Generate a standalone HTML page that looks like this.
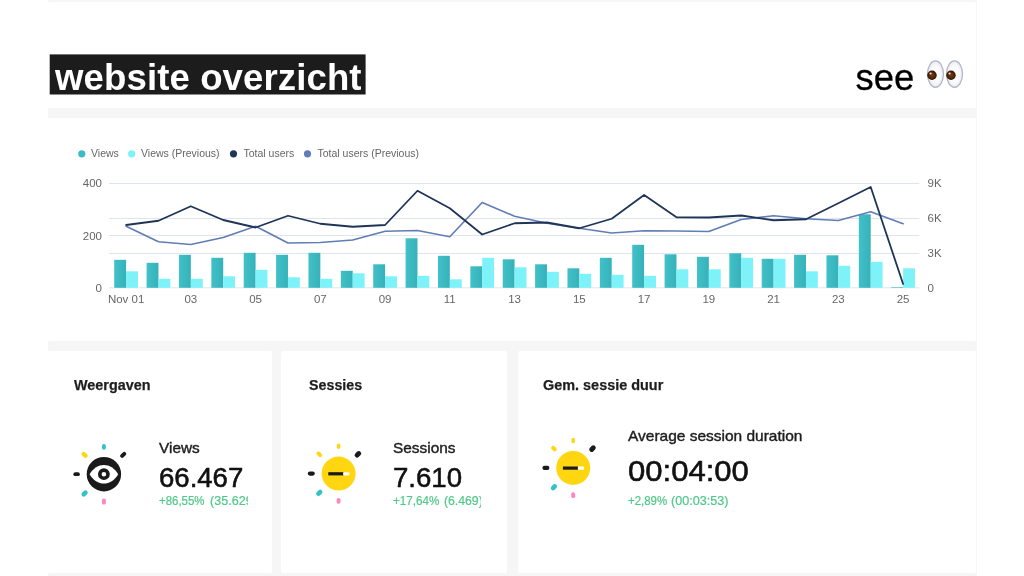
<!DOCTYPE html>
<html lang="nl"><head><meta charset="utf-8"><title>website overzicht</title>
<style>
html,body{margin:0;padding:0;}
body{width:1024px;height:576px;overflow:hidden;background:#fff;position:relative;font-family:"Liberation Sans",Arial,sans-serif;color:#1e1e1e;}
.wrap{position:absolute;left:47.5px;top:0;width:929px;height:576px;background:#f6f6f6;}
.panel{position:absolute;background:#fff;border-radius:2px;}
.p-head{left:48px;top:2px;width:928px;height:106px;}
.p-chart{left:48px;top:118px;width:928px;height:223px;}
.p1{left:48px;top:351px;width:224.2px;height:222px;}
.p2{left:281.3px;top:351px;width:225.7px;height:222px;}
.p3{left:517.5px;top:351px;width:458.5px;height:222px;}
.title{position:absolute;left:50px;top:54.7px;width:315.5px;height:39.7px;color:#fff;font-weight:bold;font-size:36.6px;line-height:40px;white-space:nowrap;letter-spacing:0.1px;}
.title span{position:absolute;left:5px;top:3.6px;}
.see{position:absolute;left:855.5px;top:57.6px;font-size:36.4px;line-height:40px;color:#000;white-space:nowrap;-webkit-text-stroke:0.3px #000;}
.eyes{position:absolute;left:925px;top:58.7px;}
.chart{position:absolute;left:48px;top:118px;}
.icons{position:absolute;left:0;top:0;}
.t{position:absolute;white-space:nowrap;}
</style></head><body>
<div class="wrap"></div>
<div class="panel p-head"></div>
<div class="panel p-chart"></div>
<div class="panel p1"></div><div class="panel p2"></div><div class="panel p3"></div>
<svg style="position:absolute;left:0;top:0" width="400" height="110" viewBox="0 0 400 110"><rect x="49.7" y="54.4" width="315.9" height="40.1" fill="#1c1c1c"/></svg>
<div class="title"><span>website overzicht</span></div>
<div class="see">see</div>
<svg class="chart" width="928" height="223" viewBox="48 118 928 223">
<defs><linearGradient id="vg" x1="0" x2="1" y1="0" y2="0"><stop offset="0" stop-color="#41c1c9"/><stop offset="1" stop-color="#36b1b9"/></linearGradient></defs>
<line x1="109" x2="919.3" y1="183.5" y2="183.5" stroke="#dfe5f0" stroke-width="1"/>
<line x1="109" x2="919.3" y1="218.5" y2="218.5" stroke="#dfe5f0" stroke-width="1"/>
<line x1="109" x2="919.3" y1="235.5" y2="235.5" stroke="#dfe5f0" stroke-width="1"/>
<line x1="109" x2="919.3" y1="253.5" y2="253.5" stroke="#dfe5f0" stroke-width="1"/>
<line x1="109" x2="919.3" y1="287.8" y2="287.8" stroke="#dfe5f0" stroke-width="1"/>
<rect x="114.21" y="259.80" width="11.88" height="28.00" fill="url(#vg)"/>
<rect x="126.09" y="271.30" width="11.88" height="16.50" fill="#7df2f8"/>
<rect x="146.59" y="262.80" width="11.88" height="25.00" fill="url(#vg)"/>
<rect x="158.46" y="278.80" width="11.88" height="9.00" fill="#7df2f8"/>
<rect x="178.96" y="254.80" width="11.88" height="33.00" fill="url(#vg)"/>
<rect x="190.84" y="278.80" width="11.88" height="9.00" fill="#7df2f8"/>
<rect x="211.34" y="257.80" width="11.88" height="30.00" fill="url(#vg)"/>
<rect x="223.21" y="276.30" width="11.88" height="11.50" fill="#7df2f8"/>
<rect x="243.71" y="252.80" width="11.88" height="35.00" fill="url(#vg)"/>
<rect x="255.59" y="269.80" width="11.88" height="18.00" fill="#7df2f8"/>
<rect x="276.09" y="254.80" width="11.88" height="33.00" fill="url(#vg)"/>
<rect x="287.96" y="277.30" width="11.88" height="10.50" fill="#7df2f8"/>
<rect x="308.46" y="252.80" width="11.88" height="35.00" fill="url(#vg)"/>
<rect x="320.34" y="278.80" width="11.88" height="9.00" fill="#7df2f8"/>
<rect x="340.84" y="270.80" width="11.88" height="17.00" fill="url(#vg)"/>
<rect x="352.71" y="273.30" width="11.88" height="14.50" fill="#7df2f8"/>
<rect x="373.21" y="264.30" width="11.88" height="23.50" fill="url(#vg)"/>
<rect x="385.09" y="276.30" width="11.88" height="11.50" fill="#7df2f8"/>
<rect x="405.59" y="238.30" width="11.88" height="49.50" fill="url(#vg)"/>
<rect x="417.46" y="275.80" width="11.88" height="12.00" fill="#7df2f8"/>
<rect x="437.96" y="255.80" width="11.88" height="32.00" fill="url(#vg)"/>
<rect x="449.84" y="279.30" width="11.88" height="8.50" fill="#7df2f8"/>
<rect x="470.34" y="266.30" width="11.88" height="21.50" fill="url(#vg)"/>
<rect x="482.21" y="257.80" width="11.88" height="30.00" fill="#7df2f8"/>
<rect x="502.71" y="259.30" width="11.88" height="28.50" fill="url(#vg)"/>
<rect x="514.59" y="267.30" width="11.88" height="20.50" fill="#7df2f8"/>
<rect x="535.09" y="264.30" width="11.88" height="23.50" fill="url(#vg)"/>
<rect x="546.96" y="271.80" width="11.88" height="16.00" fill="#7df2f8"/>
<rect x="567.46" y="268.30" width="11.88" height="19.50" fill="url(#vg)"/>
<rect x="579.34" y="273.80" width="11.88" height="14.00" fill="#7df2f8"/>
<rect x="599.84" y="257.80" width="11.88" height="30.00" fill="url(#vg)"/>
<rect x="611.71" y="274.80" width="11.88" height="13.00" fill="#7df2f8"/>
<rect x="632.21" y="244.80" width="11.88" height="43.00" fill="url(#vg)"/>
<rect x="644.09" y="275.80" width="11.88" height="12.00" fill="#7df2f8"/>
<rect x="664.59" y="254.30" width="11.88" height="33.50" fill="url(#vg)"/>
<rect x="676.46" y="269.30" width="11.88" height="18.50" fill="#7df2f8"/>
<rect x="696.96" y="256.80" width="11.88" height="31.00" fill="url(#vg)"/>
<rect x="708.84" y="269.30" width="11.88" height="18.50" fill="#7df2f8"/>
<rect x="729.34" y="253.30" width="11.88" height="34.50" fill="url(#vg)"/>
<rect x="741.21" y="257.80" width="11.88" height="30.00" fill="#7df2f8"/>
<rect x="761.71" y="258.80" width="11.88" height="29.00" fill="url(#vg)"/>
<rect x="773.59" y="258.80" width="11.88" height="29.00" fill="#7df2f8"/>
<rect x="794.09" y="254.80" width="11.88" height="33.00" fill="url(#vg)"/>
<rect x="805.96" y="271.30" width="11.88" height="16.50" fill="#7df2f8"/>
<rect x="826.46" y="255.30" width="11.88" height="32.50" fill="url(#vg)"/>
<rect x="838.34" y="265.80" width="11.88" height="22.00" fill="#7df2f8"/>
<rect x="858.84" y="214.30" width="11.88" height="73.50" fill="url(#vg)"/>
<rect x="870.71" y="261.80" width="11.88" height="26.00" fill="#7df2f8"/>
<rect x="891.21" y="287.20" width="11.88" height="0.60" fill="url(#vg)"/>
<rect x="903.09" y="268.30" width="11.88" height="19.50" fill="#7df2f8"/>
<polyline points="126.1,226.25 158.5,241.75 190.8,244.50 223.2,237.50 255.6,226.25 288.0,243.00 320.3,242.50 352.7,240.00 385.1,231.25 417.5,230.50 449.8,236.75 482.2,202.50 514.6,216.25 547.0,223.25 579.3,228.25 611.7,233.00 644.1,230.75 676.5,231.00 708.8,231.50 741.2,219.50 773.6,215.75 806.0,218.75 838.3,220.50 870.7,211.75 903.1,223.75" fill="none" stroke="#617db5" stroke-width="1.65" stroke-linejoin="round" stroke-linecap="round"/>
<polyline points="126.1,225.00 158.5,220.75 190.8,206.25 223.2,220.00 255.6,227.50 288.0,215.75 320.3,223.75 352.7,226.75 385.1,225.00 417.5,190.75 449.8,208.25 482.2,234.50 514.6,223.25 547.0,222.50 579.3,228.25 611.7,218.75 644.1,195.00 676.5,217.25 708.8,217.50 741.2,215.50 773.6,220.25 806.0,219.25 838.3,203.25 870.7,187.00 903.1,284.00" fill="none" stroke="#1f3557" stroke-width="1.8" stroke-linejoin="round" stroke-linecap="round"/>
<g font-family="'Liberation Sans', Arial, sans-serif" font-size="11.5" fill="#666">
<text x="102" y="187" text-anchor="end">400</text>
<text x="102" y="239.5" text-anchor="end">200</text>
<text x="102" y="292" text-anchor="end">0</text>
<text x="927.5" y="187">9K</text>
<text x="927.5" y="222">6K</text>
<text x="927.5" y="257">3K</text>
<text x="927.5" y="292">0</text>
<text x="126.1" y="303" text-anchor="middle">Nov 01</text>
<text x="190.8" y="303" text-anchor="middle">03</text>
<text x="255.6" y="303" text-anchor="middle">05</text>
<text x="320.3" y="303" text-anchor="middle">07</text>
<text x="385.1" y="303" text-anchor="middle">09</text>
<text x="449.8" y="303" text-anchor="middle">11</text>
<text x="514.6" y="303" text-anchor="middle">13</text>
<text x="579.3" y="303" text-anchor="middle">15</text>
<text x="644.1" y="303" text-anchor="middle">17</text>
<text x="708.8" y="303" text-anchor="middle">19</text>
<text x="773.6" y="303" text-anchor="middle">21</text>
<text x="838.3" y="303" text-anchor="middle">23</text>
<text x="903.1" y="303" text-anchor="middle">25</text>
</g>
<g font-family="'Liberation Sans', Arial, sans-serif" font-size="10.5" fill="#666">
<circle cx="81.8" cy="153.8" r="3.6" fill="#3bbcc4"/>
<text x="91" y="157.3">Views</text>
<circle cx="131.6" cy="153.8" r="3.6" fill="#7df2f8"/>
<text x="141" y="157.3">Views (Previous)</text>
<circle cx="233.5" cy="153.8" r="3.6" fill="#1f3557"/>
<text x="243.5" y="157.3">Total users</text>
<circle cx="307.5" cy="153.8" r="3.6" fill="#617db5"/>
<text x="317.5" y="157.3">Total users (Previous)</text>
</g>
</svg>
<svg class="icons" width="1024" height="576" viewBox="0 0 1024 576">
<defs><radialGradient id="pg" cx="0.5" cy="0.5" r="0.5"><stop offset="0" stop-color="#6b3a10"/><stop offset="0.55" stop-color="#5a2a08"/><stop offset="1" stop-color="#2e1002"/></radialGradient>
<radialGradient id="wg" cx="0.5" cy="0.5" r="0.5"><stop offset="0.6" stop-color="#fbfbfb"/><stop offset="1" stop-color="#e9eaf0"/></radialGradient></defs><g transform="translate(925 58.1)">
<ellipse cx="10.5" cy="16" rx="8" ry="13.2" fill="url(#wg)" stroke="#aeb2c6" stroke-width="1.2"/>
<ellipse cx="29.5" cy="16" rx="8" ry="13.2" fill="url(#wg)" stroke="#aeb2c6" stroke-width="1.2"/>
<circle cx="7" cy="17.2" r="4.7" fill="url(#pg)"/><circle cx="26" cy="17.2" r="4.7" fill="url(#pg)"/>
<circle cx="5.6" cy="15.4" r="1.1" fill="#f3e6dc"/><circle cx="24.6" cy="15.4" r="1.1" fill="#f3e6dc"/>
</g>
<rect x="-2.9" y="-1.95" width="5.8" height="3.9" rx="1.95" fill="#2fc4c6" transform="translate(103.90 446.90) rotate(-90)"/>
<rect x="-3.5" y="-2.2" width="7" height="4.4" rx="2.2" fill="#ffd60f" transform="translate(84.60 454.90) rotate(-135)"/>
<rect x="-3.5" y="-1.95" width="7" height="3.9" rx="1.95" fill="#1a1a1a" transform="translate(123.20 454.90) rotate(-45)"/>
<rect x="-3.25" y="-1.875" width="6.5" height="3.75" rx="1.875" fill="#1a1a1a" transform="translate(76.60 474.20) rotate(180)"/>
<rect x="-3.5" y="-2.2" width="7" height="4.4" rx="2.2" fill="#2fc4c6" transform="translate(84.60 493.50) rotate(135)"/>
<rect x="-3.1" y="-1.95" width="6.2" height="3.9" rx="1.95" fill="#ff85c0" transform="translate(103.90 501.50) rotate(90)"/>
<circle cx="103.9" cy="474.2" r="17.2" fill="#1a1a1a"/>
<path d="M89.60000000000001 474.2 C96.75 461.8 111.05000000000001 461.8 118.2 474.2 C111.05000000000001 486.59999999999997 96.75 486.59999999999997 89.60000000000001 474.2Z" fill="#fff"/>
<circle cx="103.9" cy="474.2" r="4.1" fill="none" stroke="#1a1a1a" stroke-width="3.6"/>
<rect x="-2.75" y="-1.75" width="5.5" height="3.5" rx="1.75" fill="#ffd60f" transform="translate(338.60 446.30) rotate(-90)"/>
<rect x="-3.1" y="-1.95" width="6.2" height="3.9" rx="1.95" fill="#ffd60f" transform="translate(319.30 454.30) rotate(-135)"/>
<rect x="-3.6" y="-2.45" width="7.2" height="4.9" rx="2.45" fill="#1a1a1a" transform="translate(357.90 454.30) rotate(-45)"/>
<rect x="-3.5" y="-2.1" width="7" height="4.2" rx="2.1" fill="#1a1a1a" transform="translate(311.30 473.60) rotate(180)"/>
<rect x="-3.5" y="-2.3" width="7" height="4.6" rx="2.3" fill="#2fc4c6" transform="translate(319.30 492.90) rotate(135)"/>
<rect x="-2.9" y="-1.95" width="5.8" height="3.9" rx="1.95" fill="#ff85c0" transform="translate(338.60 500.90) rotate(90)"/>
<circle cx="338.6" cy="473.6" r="17" fill="#ffd60f"/>
<rect x="328.3" y="472.20000000000005" width="15" height="3.2" fill="#1a1a1a"/>
<rect x="343.3" y="472.20000000000005" width="6.2" height="3.2" rx="1" fill="#fff"/>
<rect x="-2.75" y="-1.75" width="5.5" height="3.5" rx="1.75" fill="#ffd60f" transform="translate(573.20 440.60) rotate(-90)"/>
<rect x="-3.1" y="-1.95" width="6.2" height="3.9" rx="1.95" fill="#ffd60f" transform="translate(553.90 448.60) rotate(-135)"/>
<rect x="-3.6" y="-2.45" width="7.2" height="4.9" rx="2.45" fill="#1a1a1a" transform="translate(592.50 448.60) rotate(-45)"/>
<rect x="-3.5" y="-2.1" width="7" height="4.2" rx="2.1" fill="#1a1a1a" transform="translate(545.90 467.90) rotate(180)"/>
<rect x="-3.5" y="-2.3" width="7" height="4.6" rx="2.3" fill="#2fc4c6" transform="translate(553.90 487.20) rotate(135)"/>
<rect x="-2.9" y="-1.95" width="5.8" height="3.9" rx="1.95" fill="#ff85c0" transform="translate(573.20 495.20) rotate(90)"/>
<circle cx="573.2" cy="467.9" r="17" fill="#ffd60f"/>
<rect x="562.9000000000001" y="466.5" width="15" height="3.2" fill="#1a1a1a"/>
<rect x="577.9000000000001" y="466.5" width="6.2" height="3.2" rx="1" fill="#fff"/>
</svg>
<div class="t" style="left:73.50px;top:376.02px;font-size:15.3px;line-height:18.36px;font-weight:bold;color:#1e1e1e;-webkit-text-stroke:0.25px #1e1e1e;"><span style="display:inline-block;transform-origin:0 0;transform:scaleX(0.9408);">Weergaven</span></div>
<div class="t" style="left:308.60px;top:376.02px;font-size:15.3px;line-height:18.36px;font-weight:bold;color:#1e1e1e;-webkit-text-stroke:0.25px #1e1e1e;"><span style="display:inline-block;transform-origin:0 0;transform:scaleX(0.9330);">Sessies</span></div>
<div class="t" style="left:543.00px;top:376.02px;font-size:15.3px;line-height:18.36px;font-weight:bold;color:#1e1e1e;-webkit-text-stroke:0.25px #1e1e1e;"><span style="display:inline-block;transform-origin:0 0;transform:scaleX(0.9430);">Gem. sessie duur</span></div>
<div class="t" style="left:159.10px;top:440.29px;font-size:14.8px;line-height:17.76px;font-weight:normal;color:#1e1e1e;-webkit-text-stroke:0.4px #1e1e1e;"><span style="display:inline-block;transform-origin:0 0;transform:scaleX(1.0385);">Views</span></div>
<div class="t" style="left:393.10px;top:440.29px;font-size:14.8px;line-height:17.76px;font-weight:normal;color:#1e1e1e;-webkit-text-stroke:0.4px #1e1e1e;"><span style="display:inline-block;transform-origin:0 0;transform:scaleX(1.0412);">Sessions</span></div>
<div class="t" style="left:627.80px;top:428.09px;font-size:14.8px;line-height:17.76px;font-weight:normal;color:#1e1e1e;-webkit-text-stroke:0.4px #1e1e1e;"><span style="display:inline-block;transform-origin:0 0;transform:scaleX(1.0464);">Average session duration</span></div>
<div class="t" style="left:158.87px;top:462.03px;font-size:26.8px;line-height:32.16px;font-weight:normal;color:#111;-webkit-text-stroke:0.55px #111;"><span style="display:inline-block;transform-origin:0 0;transform:scaleX(1.0280);">66.467</span></div>
<div class="t" style="left:393.17px;top:462.03px;font-size:26.8px;line-height:32.16px;font-weight:normal;color:#111;-webkit-text-stroke:0.55px #111;"><span style="display:inline-block;transform-origin:0 0;transform:scaleX(1.0299);">7.610</span></div>
<div class="t" style="left:628.17px;top:453.11px;font-size:30.0px;line-height:36.0px;font-weight:normal;color:#111;-webkit-text-stroke:0.6px #111;"><span style="display:inline-block;transform-origin:0 0;transform:scaleX(1.0348);">00:04:00</span></div>
<div class="t" style="left:159.00px;top:493.74px;font-size:12px;line-height:14.4px;font-weight:normal;color:#50c888;-webkit-text-stroke:0.2px #50c888;"><span style="display:inline-block;transform-origin:0 0;transform:scaleX(0.9545);">+86,55%</span></div>
<div class="t" style="left:209.60px;top:493.74px;font-size:12px;line-height:14.4px;font-weight:normal;color:#50c888;-webkit-text-stroke:0.2px #50c888;width:38.30px;overflow:hidden;"><span style="display:inline-block;transform-origin:0 0;transform:scaleX(1.0480);">(35.629)</span></div>
<div class="t" style="left:393.00px;top:493.74px;font-size:12px;line-height:14.4px;font-weight:normal;color:#50c888;-webkit-text-stroke:0.2px #50c888;"><span style="display:inline-block;transform-origin:0 0;transform:scaleX(0.9701);">+17,64%</span></div>
<div class="t" style="left:444.20px;top:493.74px;font-size:12px;line-height:14.4px;font-weight:normal;color:#50c888;-webkit-text-stroke:0.2px #50c888;width:37.10px;overflow:hidden;"><span style="display:inline-block;transform-origin:0 0;transform:scaleX(1.0189);">(6.469)</span></div>
<div class="t" style="left:627.85px;top:494.04px;font-size:12px;line-height:14.4px;font-weight:normal;color:#50c888;-webkit-text-stroke:0.2px #50c888;"><span style="display:inline-block;transform-origin:0 0;transform:scaleX(0.9550);">+2,89%</span></div>
<div class="t" style="left:671.35px;top:494.04px;font-size:12px;line-height:14.4px;font-weight:normal;color:#50c888;-webkit-text-stroke:0.2px #50c888;"><span style="display:inline-block;transform-origin:0 0;transform:scaleX(1.0511);">(00:03:53)</span></div>
</body></html>
